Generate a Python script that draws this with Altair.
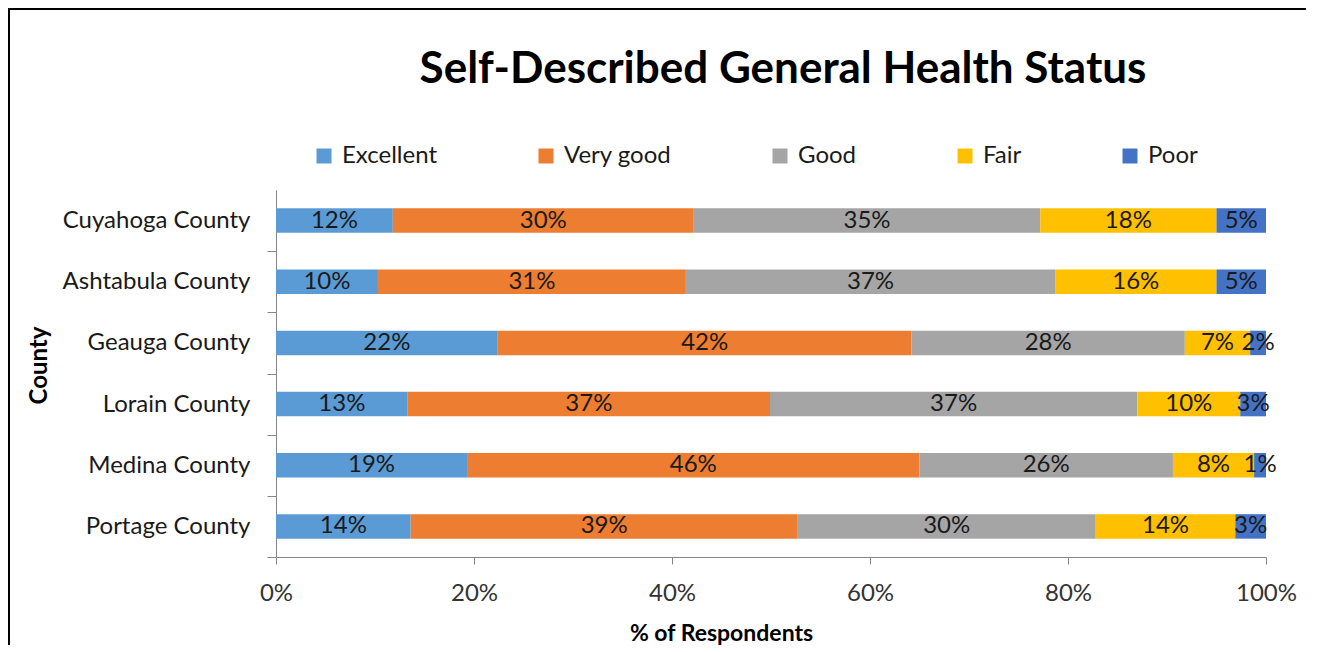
import altair as alt
import pandas as pd

counties = ["Cuyahoga County", "Ashtabula County", "Geauga County",
            "Lorain County", "Medina County", "Portage County"]
categories = ["Excellent", "Very good", "Good", "Fair", "Poor"]
colors = ["#5B9BD5", "#ED7D31", "#A5A5A5", "#FFC000", "#4472C4"]

excellent = [11.8, 10.3, 22.4, 13.3, 19.3, 13.6]
very_good = [30.4, 31.1, 41.8, 36.6, 45.7, 39.1]
good = [35.0, 37.3, 27.6, 37.1, 25.6, 30.1]
fair = [17.8, 16.3, 6.6, 10.4, 8.2, 14.1]
poor = [5.0, 5.0, 1.6, 2.6, 1.2, 3.1]

x_ticks = [0, 20, 40, 60, 80, 100]

series = [excellent, very_good, good, fair, poor]
rows = []
for cat, vals in zip(categories, series):
    for c, v in zip(counties, vals):
        rows.append({"county": c, "category": cat, "value": v})
df = pd.DataFrame(rows)

FONT = "Lato"
H = 367
HALF_STEP = H / len(counties) / 2
cat_list = "[" + ",".join("'" + c + "'" for c in categories) + "]"

base = alt.Chart(df).transform_calculate(
    order=f"indexof({cat_list}, datum.category)"
).transform_window(
    cum="sum(value)", groupby=["county"], sort=[{"field": "order"}], frame=[None, 0]
).transform_calculate(
    start="datum.cum - datum.value",
    mid="datum.cum - datum.value / 2",
    lbl="format(datum.value, '.0f') + '%'",
)

y_enc = alt.Y(
    "county:N", sort=counties,
    scale=alt.Scale(paddingInner=0.6, paddingOuter=0.3),
    axis=alt.Axis(
        title="County", titleFont=FONT, titleFontSize=24, titleFontWeight="bold",
        titleColor="#000000", titleX=-237, titleY=175, titleAngle=-90,
        titleAlign="center", titleBaseline="middle",
        labelFont=FONT, labelFontSize=24, labelColor="#1a1a1a", labelPadding=17,
        labelLimit=400,
        tickSize=9, tickBand="center", tickOffset=HALF_STEP, labelOffset=-HALF_STEP,
        tickColor="#868686", domainColor="#868686",
        grid=False,
    ),
)

bars = base.mark_bar().encode(
    x=alt.X(
        "start:Q", scale=alt.Scale(domain=[0, 100], nice=False, zero=True),
        axis=alt.Axis(
            values=x_ticks, labelExpr="datum.value + '%'", labelFlush=False,
            title="% of Respondents", titleFont=FONT, titleFontSize=23,
            titleFontWeight="bold", titleColor="#000000", titleX=445, titleY=76,
            titleAlign="center", titleBaseline="middle",
            labelFont=FONT, labelFontSize=24, labelColor="#333333", labelPadding=17,
            tickSize=7, tickColor="#868686", domainColor="#868686", grid=False,
        ),
    ),
    x2="cum:Q",
    y=y_enc,
    color=alt.Color(
        "category:N",
        scale=alt.Scale(domain=categories, range=colors),
        legend=alt.Legend(
            title=None, orient="none", direction="horizontal", legendX=36, legendY=-46,
            symbolType="square", symbolSize=225, symbolStrokeWidth=0,
            labelFont=FONT, labelFontSize=24, labelColor="#1a1a1a", labelOffset=6,
            columnPadding=96, gridAlign="none",
        ),
    ),
)

labels = base.mark_text(font=FONT, fontSize=24, color="#1a1a1a", baseline="middle").encode(
    x="mid:Q",
    y=alt.Y("county:N", sort=counties),
    text="lbl:N",
)

frame = alt.Chart(alt.Data(values=[{"k": 1}])).mark_rect(
    fillOpacity=0, stroke="#000000", strokeWidth=2
).encode(
    x=alt.value(-267), x2=alt.value(1200), y=alt.value(-181), y2=alt.value(700)
)

chart = alt.layer(bars, labels, frame).properties(
    width=990, height=H,
    padding={"left": 268, "top": 182, "right": 40, "bottom": 88},
    autosize=alt.AutoSizeParams(type="none"),
    title=alt.Title(
        "Self-Described General Health Status", font=FONT, fontSize=44,
        fontWeight="bold", color="#000000", anchor="middle", dx=12, offset=0,
        baseline="alphabetic", dy=119,
    ),
).configure_view(stroke=None)

chart.save("out.html", embed_options={"renderer": "svg", "actions": False})
